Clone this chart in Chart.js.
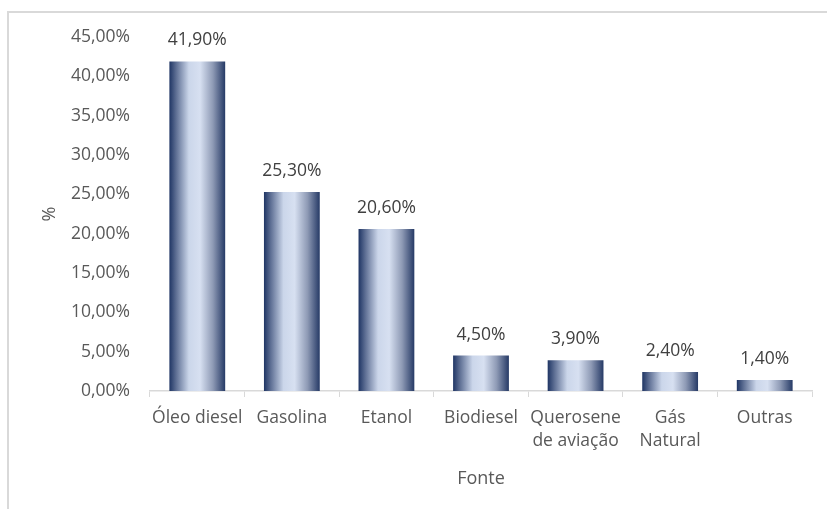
<!DOCTYPE html>
<html>
<head>
<meta charset="utf-8">
<script src="https://cdn.jsdelivr.net/npm/chart.js@4.4.0/dist/chart.umd.min.js"></script>
<style>
  html, body { margin: 0; padding: 0; background: #fff; }
  #wrap { position: relative; width: 827px; height: 509px; }
  #frame { position: absolute; left: 7px; top: 11px; right: 0; bottom: 0;
           border-top: 2px solid #d9d9d9; border-left: 2px solid #d9d9d9; }
  canvas { position: absolute; left: 0; top: 0; }
</style>
</head>
<body>
<div id="wrap">
  <div id="frame"></div>
  <canvas id="chart" width="827" height="509"></canvas>
</div>
<script>
// ── Data ──────────────────────────────────────
const categories = ['Óleo diesel', 'Gasolina', 'Etanol', 'Biodiesel', ['Querosene', 'de aviação'], ['Gás', 'Natural'], 'Outras'];
const shares     = [41.9, 25.3, 20.6, 4.5, 3.9, 2.4, 1.4];
const yTicks     = [0, 5, 10, 15, 20, 25, 30, 35, 40, 45];

const FONT = 'Open Sans';
const fmt = v => v.toFixed(2).replace('.', ',') + '%';
const BAR_PCT = 0.59;

// horizontal "cylinder" gradient for each bar
function barGradient(ctx) {
  const chart = ctx.chart;
  const x = chart.scales.x;
  if (!x || !chart.chartArea) return '#2f3f68';
  const cw = (x.right - x.left) / categories.length;
  const c  = x.getPixelForValue(ctx.dataIndex);
  const hw = cw * BAR_PCT / 2;
  const g = chart.ctx.createLinearGradient(c - hw, 0, c + hw, 0);
  g.addColorStop(0,    '#1f3564');
  g.addColorStop(0.12, '#5d6e93');
  g.addColorStop(0.35, '#cbd6ea');
  g.addColorStop(0.55, '#d7e0f1');
  g.addColorStop(0.78, '#8e9ab5');
  g.addColorStop(1,    '#263a66');
  return g;
}

// value labels above bars
const valueLabels = {
  id: 'valueLabels',
  afterDatasetsDraw(chart) {
    const { ctx } = chart;
    const meta = chart.getDatasetMeta(0);
    ctx.save();
    ctx.font = `17.5px "${FONT}"`;
    ctx.fillStyle = '#404040';
    ctx.textAlign = 'center';
    ctx.textBaseline = 'middle';
    meta.data.forEach((bar, i) => {
      ctx.fillText(fmt(shares[i]), bar.x, bar.y - 21);
    });
    ctx.restore();
  }
};

new Chart(document.getElementById('chart'), {
  type: 'bar',
  data: {
    labels: categories,
    datasets: [{
      data: shares,
      backgroundColor: barGradient,
      borderWidth: 0,
      categoryPercentage: 1,
      barPercentage: BAR_PCT
    }]
  },
  options: {
    responsive: false,
    animation: false,
    layout: { padding: { top: 37, right: 15, left: 0, bottom: 0 } },
    plugins: { legend: { display: false }, tooltip: { enabled: false } },
    scales: {
      x: {
        afterFit: s => { s.height = 118; },
        grid: { display: true, drawOnChartArea: false, drawTicks: true, tickLength: 6, color: '#d9d9d9', offset: true },
        border: { display: true, color: '#d9d9d9', width: 1.5 },
        ticks: { color: '#595959', font: { family: FONT, size: 17.5, lineHeight: 1.35 }, padding: 9, maxRotation: 0, autoSkip: false },
        title: { display: true, text: 'Fonte', color: '#595959', font: { family: FONT, size: 18 }, padding: { top: 0, bottom: 19 } }
      },
      y: {
        min: 0, max: 45,
        afterFit: s => { s.width = 150; },
        afterBuildTicks: s => { s.ticks = yTicks.map(v => ({ value: v })); },
        grid: { display: false, drawTicks: false },
        border: { display: false },
        ticks: { color: '#595959', font: { family: FONT, size: 17.5 }, padding: 20, callback: v => fmt(v) },
        title: { display: true, text: '%', color: '#595959', font: { family: FONT, size: 18 }, padding: { top: 39, bottom: 0 } }
      }
    }
  },
  plugins: [valueLabels]
});
</script>
</body>
</html>
